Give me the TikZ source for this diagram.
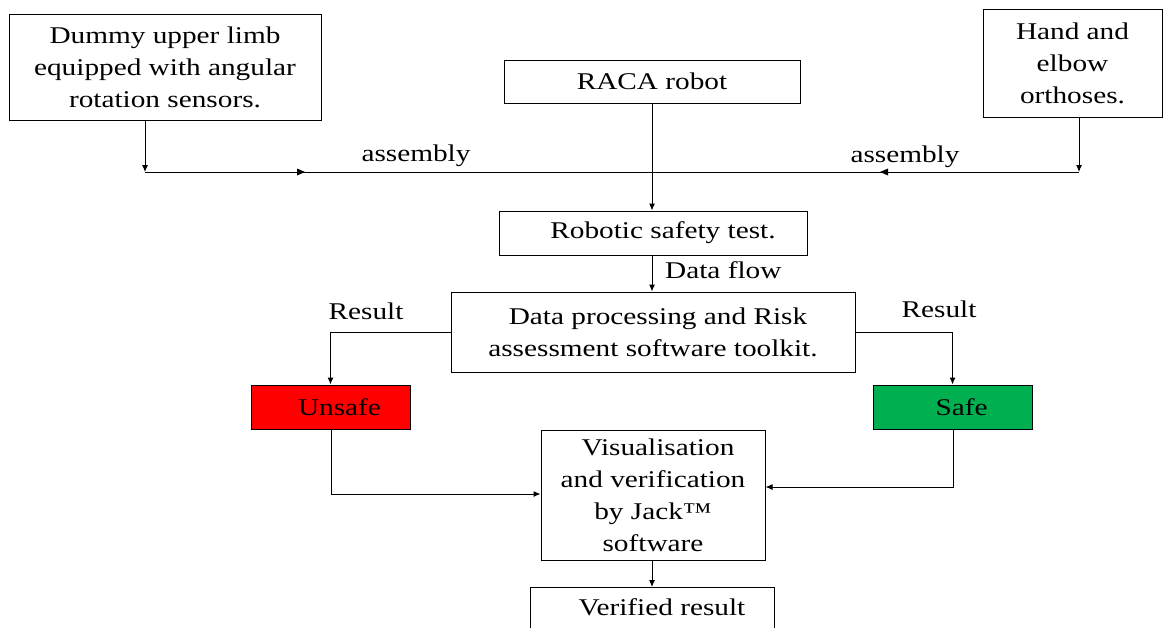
\documentclass[tikz,border=0pt]{standalone}
\usepackage{fontspec}
\setmainfont{Liberation Serif}[FakeStretch=1.22]
\usetikzlibrary{arrows.meta}
\definecolor{unsafered}{HTML}{FF0000}
\definecolor{safegreen}{HTML}{00B050}
\begin{document}
\begin{tikzpicture}[x=1pt,y=-1pt,
  box/.style={draw, line width=1pt, inner sep=0pt, align=center,
    font=\fontsize{24}{32}\selectfont},
  lbl/.style={font=\fontsize{24}{28}\selectfont, inner sep=0pt},
  arr/.style={line width=1pt, -{Latex[length=7pt,width=6pt]}},
  ln/.style={line width=1pt}
]
\useasboundingbox (0,0) rectangle (1169,627);
\node[box, minimum width=312, minimum height=106] (dummy) at (165,67) {Dummy upper limb\\equipped with angular\\rotation sensors.};
\node[box, minimum width=296, minimum height=43] (raca) at (652,81.5) {RACA robot};
\node[box, minimum width=179, minimum height=108] (hand) at (1072.5,63) {Hand and\\elbow\\orthoses.};
\node[box, minimum width=308, minimum height=44] (safety) at (653,233) {\hspace{20pt}Robotic safety test.};
\node[box, minimum width=404, minimum height=80] (proc) at (653,332) {\hspace{10pt}Data processing and Risk\\assessment software toolkit.};
\node[box, fill=unsafered, minimum width=159, minimum height=44] (unsafe) at (330.5,407) {\hspace{18pt}Unsafe};
\node[box, fill=safegreen, minimum width=159, minimum height=44] (safe) at (952.5,407) {\hspace{18pt}Safe};
\node[box, minimum width=224, minimum height=130] (vis) at (653,495) {\hspace{10pt}Visualisation\\and verification\\by Jack™\\software};
\node[box, minimum width=244, minimum height=60, anchor=north] (ver) at (652,587) {};
\node[font=\fontsize{24}{32}\selectfont] (vertxt) at (662,607) {Verified result};

\coordinate (jl) at (145,172);
\coordinate (jr) at (1079,172);
\coordinate (jc) at (652,172);

\draw[arr] (dummy.south -| jl) -- (jl);
\draw[arr] (hand.south -| jr) -- (jr);
\draw[ln] (jl) -- (jr);
\fill (305,172) -- ++(-8,-3.5) -- ++(0,7) -- cycle;
\fill (880,172) -- ++(8,-3.5) -- ++(0,7) -- cycle;
\node[lbl] (asl) at (416,156) {assembly};
\node[lbl] (asr) at (905,157) {assembly};

\draw[arr] (raca.south -| jc) -- (safety.north -| jc);
\draw[arr] (safety.south -| jc) -- (proc.north -| jc);
\node[lbl, anchor=west] (df) at (665,270) {Data flow};

\draw[arr] (proc.west) -| (unsafe.north);
\draw[arr] (proc.east) -| (safe.north);
\node[lbl] (r1) at (366,311) {Result};
\node[lbl] (r2) at (939,309) {Result};

\coordinate (uc) at (331,494);
\coordinate (sc) at (953,487);
\draw[arr] (unsafe.south -| uc) -- (uc) -- (uc -| vis.west);
\draw[arr] (safe.south -| sc) -- (sc) -- (sc -| vis.east);
\draw[arr] (vis.south -| jc) -- (ver.north -| jc);
\end{tikzpicture}
\end{document}
